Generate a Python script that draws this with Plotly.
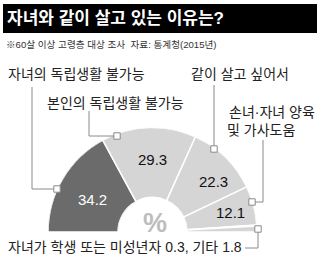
import plotly.graph_objects as go

W, H = 320, 263
title = "자녀와 같이 살고 있는 이유는?"
subtitle = "※60살 이상 고령층 대상 조사  자료: 통계청(2015년)"
categories = ["자녀의 독립생활 불가능", "본인의 독립생활 불가능", "같이 살고 싶어서",
              "손녀·자녀 양육 및 가사도움", "자녀가 학생 또는 미성년자", "기타"]
values = [34.2, 29.3, 22.3, 12.1, 0.3, 1.8]
colors = ["#6b6b6b", "#d5d5d5", "#d5d5d5", "#d5d5d5", "#d5d5d5", "#d5d5d5"]

total = sum(values)
thetas, widths = [], []
cum = 0
for v in values:
    w = v / total * 180
    thetas.append(180 - (cum + w / 2))
    widths.append(w)
    cum += w

def px(x):
    return x / W

def py(y):
    return 1 - y / H

fig = go.Figure()
fig.add_trace(go.Barpolar(
    r=[1] * len(values), theta=thetas, width=widths, base=0,
    marker=dict(color=colors, line=dict(color="white", width=1.5)),
    hoverinfo="skip", showlegend=False,
))

FONT = "Liberation Sans, Noto Sans CJK KR"
ann = []
shapes = []
# title bar
shapes.append(dict(type="rect", xref="paper", yref="paper", x0=px(3), x1=px(317),
                   y0=py(33), y1=py(4), fillcolor="black", line=dict(width=0), layer="below"))
ann.append(dict(text="<b>" + title + "</b>", x=px(115), y=py(18.5), xanchor="center", yanchor="middle",
                font=dict(family=FONT, size=17, color="white")))
ann.append(dict(text=subtitle, x=px(111), y=py(44), xanchor="center", yanchor="middle",
                font=dict(family=FONT, size=9.6, color="#333333")))

lab_font = dict(family=FONT, size=14, color="#222222")
lab3 = categories[3].split(" 및 ")
ann.append(dict(text=categories[0], x=px(76.5), y=py(74), xanchor="center", yanchor="middle", font=lab_font))
ann.append(dict(text=categories[1], x=px(115.5), y=py(103), xanchor="center", yanchor="middle", font=lab_font))
ann.append(dict(text=categories[2], x=px(240), y=py(74), xanchor="center", yanchor="middle", font=lab_font))
ann.append(dict(text=lab3[0], x=px(272), y=py(112), xanchor="center", yanchor="middle", font=lab_font))
ann.append(dict(text="및 " + lab3[1], x=px(261), y=py(130), xanchor="center", yanchor="middle", font=lab_font))
ann.append(dict(text=f"{categories[4]} {values[4]}, {categories[5]} {values[5]}", x=px(125), y=py(247),
                xanchor="center", yanchor="middle", font=lab_font))

# value labels
val_pos = [(92, 199, "white"), (152, 159, "#111111"), (213, 181, "#111111"), (230, 212, "#111111")]
for (x, y, c), v in zip(val_pos, values[:4]):
    ann.append(dict(text=f"{v}", x=px(x), y=py(y), xanchor="center", yanchor="middle",
                    font=dict(family=FONT, size=15, color=c)))
ann.append(dict(text="<b>%</b>", x=px(155), y=py(223), xanchor="center", yanchor="middle",
                font=dict(family=FONT, size=27, color="#bdbdbd")))

for a in ann:
    a.update(xref="paper", yref="paper", showarrow=False)

LC = "#8a8a8a"
def line(pts):
    path = "M " + " L ".join(f"{px(x)},{py(y)}" for x, y in pts)
    shapes.append(dict(type="path", xref="paper", yref="paper", path=path,
                       line=dict(color=LC, width=1)))

def square(x, y, s=3.2):
    shapes.append(dict(type="rect", xref="paper", yref="paper", x0=px(x - s), x1=px(x + s),
                       y0=py(y + s), y1=py(y - s), fillcolor="white", line=dict(color=LC, width=1)))

line([(32, 87), (32, 189), (57, 189)])
line([(89, 111), (89, 136), (117, 136)])
line([(214, 85), (214, 149)])
line([(263, 140), (263, 202), (252, 202)])
line([(245, 248), (258, 248), (258, 229)])
square(57, 189)
square(117, 136)
square(214, 149)
square(252, 202)
square(258, 229)

fig.update_layout(
    width=W, height=H, margin=dict(l=0, r=0, t=0, b=0),
    paper_bgcolor="white", plot_bgcolor="white",
    polar=dict(
        domain=dict(x=[48 / W, 257 / W], y=[31 / H, 135.5 / H]),
        sector=[0, 180], hole=0.33, bgcolor="rgba(0,0,0,0)",
        radialaxis=dict(visible=False, range=[0, 1]),
        angularaxis=dict(visible=False),
    ),
    annotations=ann, shapes=shapes,
)
fig.write_html("out.html", config={"displayModeBar": False},
               post_script="document.body.style.margin='0';document.body.style.overflow='hidden';")
